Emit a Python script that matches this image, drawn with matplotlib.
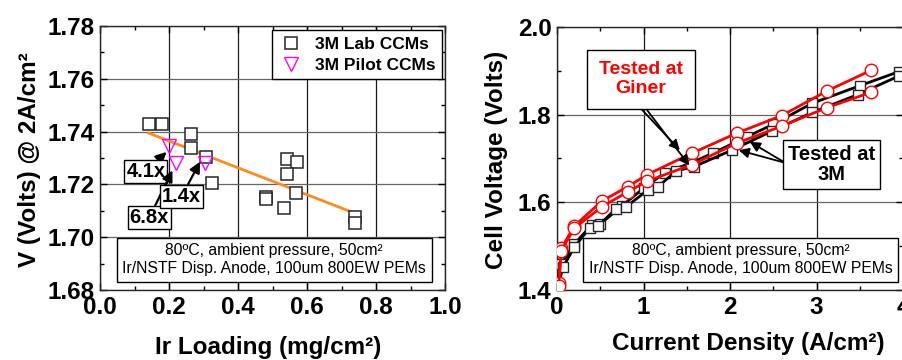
import matplotlib
matplotlib.use("Agg")
import matplotlib.pyplot as plt
from matplotlib.ticker import MultipleLocator
from matplotlib.lines import Line2D

plt.rcParams["font.family"] = ["Liberation Sans", "DejaVu Sans"]

# ---- left panel data: voltage at 2 A/cm2 vs Ir loading ----
lab_loading = [0.143, 0.179, 0.264, 0.264, 0.307, 0.324, 0.480, 0.481,
               0.543, 0.570, 0.541, 0.568, 0.533, 0.738, 0.740]
lab_voltage = [1.7428, 1.7428, 1.7390, 1.7339, 1.7303, 1.7204, 1.7153, 1.7145,
               1.7296, 1.7284, 1.7239, 1.7169, 1.7112, 1.7075, 1.7053]
pilot_loading = [0.200, 0.220, 0.305]
pilot_voltage = [1.7347, 1.7282, 1.7282]
fit_loading = [0.14, 0.74]
fit_voltage = [1.7395, 1.7090]

# ---- right panel data: polarization curves ----
giner_j = [0.02, 0.05, 0.20, 0.52, 0.82, 1.04, 1.56, 2.08, 2.60, 3.12, 3.63]
giner_v1 = [1.415, 1.495, 1.546, 1.603, 1.636, 1.663, 1.712, 1.758, 1.798, 1.854, 1.901]
giner_v2 = [1.408, 1.490, 1.541, 1.590, 1.624, 1.648, 1.686, 1.735, 1.774, 1.816, 1.851]
m3_j1 = [0.00, 0.05, 0.20, 0.40, 0.50, 0.75, 1.00, 1.25, 1.55, 1.80, 2.20, 2.50, 2.95, 3.50, 3.95]
m3_v1 = [1.410, 1.460, 1.505, 1.548, 1.550, 1.592, 1.632, 1.668, 1.690, 1.712, 1.750, 1.778, 1.826, 1.866, 1.898]
m3_j2 = [0.00, 0.07, 0.20, 0.38, 0.47, 0.68, 0.80, 1.05, 1.17, 1.38, 1.58, 2.02, 2.48, 2.95, 3.48, 3.95]
m3_v2 = [1.400, 1.452, 1.498, 1.542, 1.545, 1.585, 1.590, 1.628, 1.636, 1.672, 1.681, 1.719, 1.762, 1.805, 1.846, 1.888]

note = "80ºC, ambient pressure, 50cm²\nIr/NSTF Disp. Anode, 100um 800EW PEMs"
ORANGE = "#ff8c1a"
MAGENTA = "#ff00ff"
RED = "#ff0000"

W, H = 902, 360
fig = plt.figure(figsize=(W / 100, H / 100), dpi=100, facecolor="white")
ax1 = fig.add_axes([100 / W, 1 - 290 / H, 345 / W, 264 / H])
ax2 = fig.add_axes([557 / W, 1 - 290 / H, 346 / W, 263 / H])


def style(ax):
    ax.tick_params(which="both", direction="in", top=True, right=True)
    ax.tick_params(which="major", length=5, width=1, labelsize=17.5, pad=4)
    ax.tick_params(which="minor", length=3, width=1)
    for lab in ax.get_xticklabels() + ax.get_yticklabels():
        lab.set_fontweight("bold")
    for sp in ax.spines.values():
        sp.set_linewidth(1.0)
        sp.set_color("0.15")
    ax.xaxis.grid(True, color="0.1", lw=0.9)
    ax.yaxis.grid(True, color="0.4", lw=0.9)
    ax.set_axisbelow(True)


# ---- left panel ----
ax1.set_xlim(0, 1.0)
ax1.set_ylim(1.68, 1.78)
ax1.xaxis.set_major_locator(MultipleLocator(0.2))
ax1.xaxis.set_minor_locator(MultipleLocator(0.1))
ax1.yaxis.set_major_locator(MultipleLocator(0.02))
ax1.yaxis.set_minor_locator(MultipleLocator(0.01))
ax1.xaxis.set_major_formatter(plt.FormatStrFormatter("%.1f"))
ax1.yaxis.set_major_formatter(plt.FormatStrFormatter("%.2f"))
style(ax1)

ax1.plot(fit_loading, fit_voltage, color=ORANGE, lw=2, zorder=3)
ax1.plot(lab_loading, lab_voltage, ls="none", marker="s", ms=8, mfc="white",
         mec="0.15", mew=1.1, zorder=4)
ax1.plot(pilot_loading, pilot_voltage, ls="none", marker="v", ms=10, mfc="none",
         mec=MAGENTA, mew=1.0, zorder=5)

handles = [Line2D([], [], ls="none", marker="s", ms=8, mfc="white", mec="0.15", mew=1.1),
           Line2D([], [], ls="none", marker="v", ms=10, mfc="none", mec=MAGENTA, mew=1.0)]
leg = ax1.legend(handles, ["3M Lab CCMs", "3M Pilot CCMs"], loc="upper right",
                 bbox_to_anchor=(0.995, 0.99), fancybox=False, framealpha=1,
                 edgecolor="k", borderpad=0.35, handlelength=1.4, handletextpad=0.7,
                 labelspacing=0.35, borderaxespad=0.1, prop={"size": 12.5, "weight": "bold"})
leg.get_frame().set_linewidth(1.0)

box = dict(boxstyle="square,pad=0.1", fc="white", ec="k", lw=1)
arrow1 = dict(arrowstyle="-|>", color="k", lw=1.6, mutation_scale=16, shrinkA=0, shrinkB=0)
ax1.annotate("4.1x", xy=(0.193, 1.7323), xytext=(0.133, 1.7248), fontsize=14.5,
             fontweight="bold", ha="center", va="center", bbox=box, arrowprops=arrow1)
ax1.annotate("6.8x", xy=(0.210, 1.7253), xytext=(0.143, 1.7075), fontsize=14.5,
             fontweight="bold", ha="center", va="center", bbox=box, arrowprops=arrow1)
ax1.annotate("1.4x", xy=(0.290, 1.7286), xytext=(0.237, 1.7155), fontsize=14.5,
             fontweight="bold", ha="center", va="center", bbox=box, arrowprops=arrow1)

ax1.text(0.505, 0.115, note, transform=ax1.transAxes, ha="center", va="center",
         fontsize=11.3, linespacing=1.25,
         bbox=dict(boxstyle="square,pad=0.35", fc="white", ec="k", lw=1), zorder=6)

# ---- right panel ----
ax2.set_xlim(0, 4)
ax2.set_ylim(1.4, 2.0)
ax2.xaxis.set_major_locator(MultipleLocator(1))
ax2.xaxis.set_minor_locator(MultipleLocator(0.5))
ax2.yaxis.set_major_locator(MultipleLocator(0.2))
ax2.yaxis.set_minor_locator(MultipleLocator(0.1))
ax2.xaxis.set_major_formatter(plt.FormatStrFormatter("%d"))
ax2.yaxis.set_major_formatter(plt.FormatStrFormatter("%.1f"))
style(ax2)
ax2.spines["right"].set_visible(False)

for j, v in ((m3_j1, m3_v1), (m3_j2, m3_v2)):
    ax2.plot(j, v, color="k", lw=2, marker="s", ms=7, mfc="white", mec="0.15",
             mew=1.0, zorder=3)
for v in (giner_v1, giner_v2):
    ax2.plot(giner_j, v, color=RED, lw=2, marker="o", ms=9, mfc="white", mec=RED,
             mew=1.0, zorder=4)

arrow = dict(arrowstyle="-|>", color="k", lw=1.3, mutation_scale=15, shrinkA=0, shrinkB=0)
ax2.text(0.97, 1.881, "Tested at\nGiner", color=RED, fontsize=14, fontweight="bold",
         ha="center", va="center", linespacing=1.15,
         bbox=dict(boxstyle="square,pad=0.6", fc="white", ec="k", lw=1), zorder=6)
ax2.annotate("", xy=(1.42, 1.719), xytext=(0.96, 1.816), arrowprops=arrow, zorder=5)
ax2.annotate("", xy=(1.53, 1.684), xytext=(1.02, 1.816), arrowprops=arrow, zorder=5)

ax2.text(3.17, 1.686, "Tested at\n3M", color="k", fontsize=14.5, fontweight="bold",
         ha="center", va="center", linespacing=1.1,
         bbox=dict(boxstyle="square,pad=0.25", fc="white", ec="k", lw=1), zorder=6)
ax2.annotate("", xy=(2.10, 1.719), xytext=(2.64, 1.690), arrowprops=arrow, zorder=5)
ax2.annotate("", xy=(2.23, 1.738), xytext=(2.64, 1.690), arrowprops=arrow, zorder=5)

ax2.text(0.53, 0.115, note, transform=ax2.transAxes, ha="center", va="center",
         fontsize=11.3, linespacing=1.25,
         bbox=dict(boxstyle="square,pad=0.35", fc="white", ec="k", lw=1), zorder=6)

# ---- axis labels ----
fig.text(30 / W, 1 - 160 / H, "V (Volts) @ 2A/cm²", rotation=90, ha="center",
         va="center", fontsize=17.5, fontweight="bold")
fig.text(268 / W, 1 - 354 / H, "Ir Loading (mg/cm²)", ha="center", va="baseline",
         fontsize=17.5, fontweight="bold")
fig.text(497 / W, 1 - 160 / H, "Cell Voltage (Volts)", rotation=90, ha="center",
         va="center", fontsize=17.5, fontweight="bold")
fig.text(748 / W, 1 - 350 / H, "Current Density (A/cm²)", ha="center", va="baseline",
         fontsize=17.5, fontweight="bold")

fig.savefig("out.png", dpi=100, facecolor="white")
